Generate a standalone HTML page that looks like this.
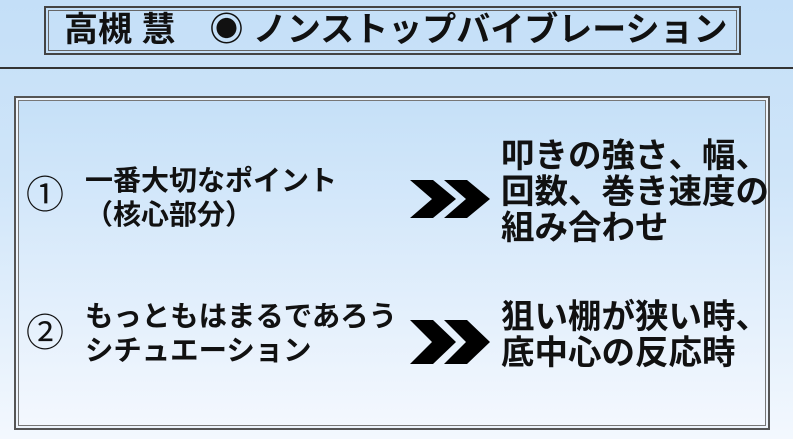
<!DOCTYPE html>
<html><head><meta charset="utf-8"><style>
body{margin:0;width:793px;height:439px;overflow:hidden;background:linear-gradient(#c4dff8 0%,#cfe5f9 40%,#f3f8fe 100%);font-family:"Liberation Sans","Noto Sans CJK JP",sans-serif;font-weight:bold;color:#111;position:relative}
.t{position:absolute;white-space:nowrap}
#title{position:absolute;left:44px;top:6px;width:693px;height:45px;border:2px solid #444;box-shadow:inset 0 0 0 2px #c4dff8,inset 0 0 0 3px #666;}
#hr{position:absolute;left:0;top:67px;width:793px;height:2px;background:#333}
#box{position:absolute;left:14px;top:96px;width:752px;height:330px;border:2px solid #555;box-shadow:inset 0 0 0 2px #eef4fb,inset 0 0 0 3px #777;background:linear-gradient(#c5e0f8,#f4f8fe)}
</style></head><body>
<div id="title"></div>
<div class="t" style="left:64px;top:7px;font-size:34px;line-height:46px">高槻 慧　◉ ノンストップバイブレーション</div>
<div id="hr"></div>
<div id="box"></div>
<div class="t" style="left:26px;top:174px;font-size:38px;line-height:44px;font-weight:normal">①</div>
<div class="t" style="left:85px;top:164px;font-size:28px;line-height:34px">一番大切なポイント<br>（核心部分）</div>
<svg style="position:absolute;left:0;top:0" width="793" height="439">
<polygon points="410,180 433,180 456,199 433,218 410,218 432,199" fill="#000"/>
<polygon points="444,180 467,180 490,199 467,218 444,218 466,199" fill="#000"/>
<polygon points="410,320 433,320 456,342 433,364 410,364 432,342" fill="#000"/>
<polygon points="444,320 467,320 490,342 467,364 444,364 466,342" fill="#000"/>
</svg>
<div class="t" style="left:501px;top:139px;font-size:33.5px;line-height:36px">叩きの強さ、幅、<br>回数、巻き速度の<br>組み合わせ</div>
<div class="t" style="left:26px;top:312px;font-size:38px;line-height:44px;font-weight:normal">②</div>
<div class="t" style="left:85px;top:300px;font-size:28.4px;line-height:34px">もっともはまるであろう<br>シチュエーション</div>
<div class="t" style="left:501px;top:300px;font-size:33.5px;line-height:36px">狙い棚が狭い時、<br>底中心の反応時</div>
</body></html>
